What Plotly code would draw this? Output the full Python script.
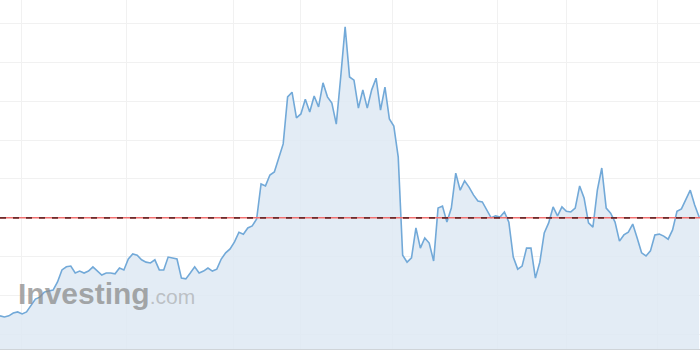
import plotly.graph_objects as go

# Price series (index = trading day)
values = [
    14.8, 14.5, 14.8, 15.5, 15.8, 15.3, 15.8, 17.6, 19.1, 19.6,
    20.9, 21.2, 21.4, 23.5, 26.6, 27.4, 27.6, 25.8, 26.3, 25.8,
    26.3, 27.4, 26.3, 25.3, 25.8, 25.8, 25.6, 27.1, 26.6, 29.4,
    30.7, 30.4, 29.2, 28.6, 28.4, 29.2, 26.6, 26.6, 29.9, 29.7,
    29.4, 24.5, 24.3, 25.8, 27.4, 25.8, 26.3, 27.1, 26.3, 26.8,
    29.4, 31.0, 32.0, 33.8, 36.3, 35.8, 37.4, 37.9, 39.7, 48.7,
    48.2, 51.0, 51.8, 55.4, 59.0, 71.1, 72.3, 65.7, 66.7, 70.5,
    67.2, 71.3, 68.5, 74.7, 71.1, 69.5, 64.1, 76.2, 89.1, 76.2,
    75.4, 68.2, 72.9, 68.2, 72.9, 75.9, 67.7, 73.6, 65.4, 63.6,
    55.6, 30.4, 28.6, 29.7, 37.4, 32.2, 34.8, 33.5, 28.9, 42.5,
    43.0, 38.9, 42.5, 51.5, 47.1, 49.5, 47.9, 45.9, 44.3, 44.1,
    42.0, 40.0, 40.5, 40.2, 41.5, 38.9, 29.9, 26.8, 27.6, 32.2,
    32.2, 24.5, 28.6, 36.1, 38.7, 42.8, 40.5, 42.8, 41.7, 41.5,
    42.5, 48.2, 45.1, 38.7, 37.6, 47.1, 52.8, 42.5, 41.2, 38.9,
    34.0, 35.6, 36.3, 38.4, 34.8, 31.0, 30.2, 31.5, 35.6, 35.8,
    35.3, 34.5, 36.9, 41.7, 42.3, 44.8, 47.1, 43.3, 40.2,
]
days = list(range(len(values)))

reference_level = 40.0
month_gridlines = [4.75, 28.7, 52.7, 67.8, 88.6, 112.5, 128.1, 148.5]
y_gridlines = [10, 20, 30, 40, 50, 60, 70, 80, 90]

fig = go.Figure()
fig.add_trace(go.Scatter(
    x=days, y=values, mode="lines",
    line=dict(color="#72a9d8", width=1.6),
    fill="tozeroy", fillcolor="rgba(222,233,243,0.85)",
    hoverinfo="skip",
))

# reference dashed line (red thin line + dark dashes)
fig.add_shape(type="line", xref="paper", x0=0, x1=1, yref="y",
              y0=reference_level, y1=reference_level,
              line=dict(color="#f07070", width=1.4), layer="above")
fig.add_shape(type="line", xref="paper", x0=0, x1=1, yref="y",
              y0=reference_level, y1=reference_level,
              line=dict(color="#6e2a2a", width=1.8, dash="6px,7px"), layer="above")

fig.add_annotation(
    xref="paper", yref="paper", x=16/700, y=0.158, xanchor="left", yanchor="middle",
    text="<b>Investing</b><span style='font-size:21px;color:rgba(150,150,150,0.7)'>.com</span>",
    showarrow=False,
    font=dict(family="Liberation Sans, Arial", size=30, color="rgba(140,140,140,0.75)"),
)

fig.update_layout(
    width=700, height=351,
    margin=dict(l=0, r=0, t=0, b=2),
    paper_bgcolor="white", plot_bgcolor="white",
    showlegend=False,
    xaxis=dict(range=[0, 158.2], tickvals=month_gridlines, showticklabels=False,
               showgrid=True, gridcolor="#f1f1f1", gridwidth=1, zeroline=False,
               showline=True, linecolor="#cfd4d8", linewidth=1, ticks=""),
    yaxis=dict(range=[6.27, 96.0], tickvals=y_gridlines, showticklabels=False,
               showgrid=True, gridcolor="#f1f1f1", gridwidth=1, zeroline=False,
               showline=False, ticks=""),
)

fig.write_html("out.html")
